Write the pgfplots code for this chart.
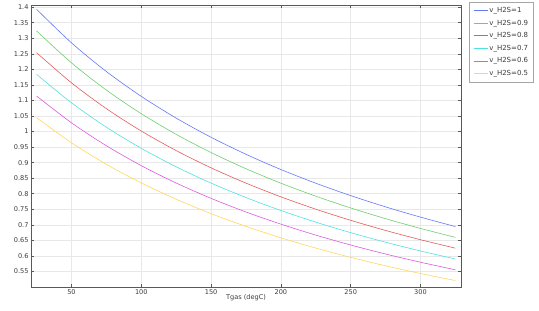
\documentclass[border=0pt]{standalone}
\usepackage{pgfplots}
\pgfplotsset{compat=1.18}
\usepackage{fontspec}
\setmainfont{DejaVu Sans}
\definecolor{colB}{RGB}{100,120,250}
\definecolor{colG}{RGB}{110,205,110}
\definecolor{colR}{RGB}{230,90,90}
\definecolor{colC}{RGB}{80,225,225}
\definecolor{colM}{RGB}{220,90,220}
\definecolor{colY}{RGB}{255,215,90}
\definecolor{txt}{RGB}{60,60,60}
\begin{document}
\begin{tikzpicture}
\begin{axis}[
  scale only axis,
  width=430bp, height=282bp,
  xmin=21, xmax=329, ymin=0.5, ymax=1.407,
  xtick={50,100,...,300},
  ytick={0.55,0.6,0.65,0.7,0.75,0.8,0.85,0.9,0.95,1,1.05,1.1,1.15,1.2,1.25,1.3,1.35,1.4},
  /pgf/number format/fixed, /pgf/number format/precision=2,
  /pgf/number format/assume math mode=true,
  tick label style={font=\fontsize{6.6}{7}\selectfont, text=txt},
  xticklabel style={yshift=1bp},
  yticklabel style={xshift=1bp},
  grid=major,
  major grid style={gray!18, line width=0.5pt},
  axis line style={gray!70!black, line width=0.6pt},
  major tick length=3bp,
  tick style={gray!70!black, line width=0.5pt},
  xlabel={Tgas (degC)},
  xlabel style={font=\fontsize{6.6}{7}\selectfont, text=txt, yshift=7bp},
  legend style={at={(rel axis cs:1,1)}, anchor=north west, xshift=8bp, yshift=3bp,
    font=\fontsize{7}{8}\selectfont, text=txt, draw=gray!70, line width=0.5pt,
    row sep=3bp, inner xsep=4bp, inner ysep=3.5bp,
    nodes={inner sep=1.6bp, text height=5.2bp, text depth=1.2bp}},
  legend cell align=left,
  legend image code/.code={\draw[#1] (0bp,0bp) -- (14bp,0bp);},
  every axis plot/.append style={line width=0.6pt},
]
\addplot[colB, smooth] coordinates {(25,1.3931)(50,1.2853)(75,1.1930)(100,1.1131)(125,1.0432)(150,0.9815)(175,0.9268)(200,0.8778)(225,0.8338)(250,0.7939)(275,0.7577)(300,0.7247)(325,0.6944)};
\addplot[colG, smooth] coordinates {(25,1.3234)(50,1.2210)(75,1.1333)(100,1.0574)(125,0.9910)(150,0.9324)(175,0.8804)(200,0.8339)(225,0.7921)(250,0.7542)(275,0.7198)(300,0.6884)(325,0.6596)};
\addplot[colR, smooth] coordinates {(25,1.2537)(50,1.1567)(75,1.0736)(100,1.0017)(125,0.9388)(150,0.8833)(175,0.8341)(200,0.7900)(225,0.7503)(250,0.7145)(275,0.6819)(300,0.6521)(325,0.6249)};
\addplot[colC, smooth] coordinates {(25,1.1840)(50,1.0924)(75,1.0140)(100,0.9460)(125,0.8866)(150,0.8342)(175,0.7877)(200,0.7461)(225,0.7086)(250,0.6748)(275,0.6440)(300,0.6159)(325,0.5902)};
\addplot[colM, smooth] coordinates {(25,1.1143)(50,1.0281)(75,0.9543)(100,0.8903)(125,0.8344)(150,0.7851)(175,0.7413)(200,0.7022)(225,0.6669)(250,0.6351)(275,0.6061)(300,0.5797)(325,0.5554)};
\addplot[colY, smooth] coordinates {(25,1.0446)(50,0.9638)(75,0.8946)(100,0.8347)(125,0.7823)(150,0.7360)(175,0.6950)(200,0.6583)(225,0.6252)(250,0.5954)(275,0.5682)(300,0.5434)(325,0.5207)};
\legend{v\_H2S=1, v\_H2S=0.9, v\_H2S=0.8, v\_H2S=0.7, v\_H2S=0.6, v\_H2S=0.5}
\end{axis}
\path (current axis.south west) ++(-31bp,-23bp) coordinate (bl);
\path (current axis.north east) ++(78bp,5bp) coordinate (tr);
\useasboundingbox (bl) rectangle (tr);
\end{tikzpicture}
\end{document}
